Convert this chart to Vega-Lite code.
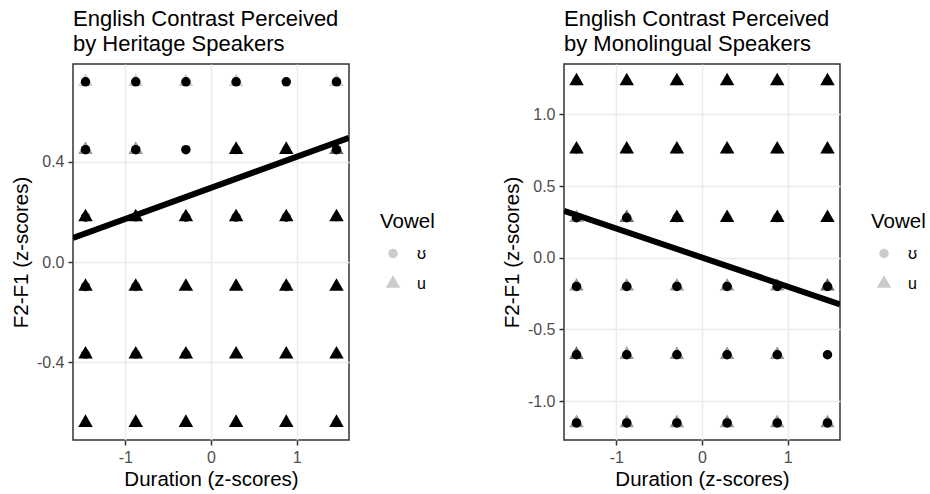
{
  "$schema": "https://vega.github.io/schema/vega-lite/v6.json",
  "padding": {"left": 10, "top": 7, "right": 5, "bottom": 0},
  "spacing": 65,
  "resolve": {"scale": {"shape": "independent", "size": "independent", "opacity": "independent"}, "legend": {"shape": "independent", "size": "independent"}},
  "config": {
    "font": "Liberation Sans",
    "view": {"stroke": "#333333", "strokeWidth": 1.5},
    "axis": {"labelFontSize": 16, "labelColor": "#4d4d4d", "labelFont": "Liberation Sans", "titleFont": "Liberation Sans", "titleFontSize": 20.5, "titleFontWeight": "normal", "titleColor": "black", "tickColor": "#333333", "tickWidth": 1.5, "tickSize": 5, "domain": false, "gridColor": "#ebebeb", "gridWidth": 1.5, "labelPadding": 4, "labelFlush": false},
    "title": {"font": "Liberation Sans", "fontSize": 22, "fontWeight": "normal", "color": "black", "anchor": "start", "frame": "group", "lineHeight": 25, "baseline": "bottom", "offset": 8}
  },
  "datasets": {
    "heritage": [
      {"duration": -1.464, "f2f1": 0.719, "vowel": "ʊ", "n": 8}, {"duration": -1.464, "f2f1": 0.719, "vowel": "u", "n": 1},
      {"duration": -0.878, "f2f1": 0.719, "vowel": "ʊ", "n": 8}, {"duration": -0.878, "f2f1": 0.719, "vowel": "u", "n": 1},
      {"duration": -0.293, "f2f1": 0.719, "vowel": "ʊ", "n": 8}, {"duration": -0.293, "f2f1": 0.719, "vowel": "u", "n": 1},
      {"duration": 0.293, "f2f1": 0.719, "vowel": "ʊ", "n": 8}, {"duration": 0.293, "f2f1": 0.719, "vowel": "u", "n": 1},
      {"duration": 0.878, "f2f1": 0.719, "vowel": "ʊ", "n": 8},
      {"duration": 1.464, "f2f1": 0.719, "vowel": "ʊ", "n": 8}, {"duration": 1.464, "f2f1": 0.719, "vowel": "u", "n": 1},
      {"duration": -1.464, "f2f1": 0.448, "vowel": "ʊ", "n": 8}, {"duration": -1.464, "f2f1": 0.448, "vowel": "u", "n": 2},
      {"duration": -0.878, "f2f1": 0.448, "vowel": "ʊ", "n": 8}, {"duration": -0.878, "f2f1": 0.448, "vowel": "u", "n": 2},
      {"duration": -0.293, "f2f1": 0.448, "vowel": "ʊ", "n": 8},
      {"duration": 0.293, "f2f1": 0.448, "vowel": "u", "n": 8}, {"duration": 0.293, "f2f1": 0.448, "vowel": "ʊ", "n": 2},
      {"duration": 0.878, "f2f1": 0.448, "vowel": "u", "n": 8}, {"duration": 0.878, "f2f1": 0.448, "vowel": "ʊ", "n": 1},
      {"duration": 1.464, "f2f1": 0.448, "vowel": "ʊ", "n": 8}, {"duration": 1.464, "f2f1": 0.448, "vowel": "u", "n": 3},
      {"duration": -1.464, "f2f1": 0.179, "vowel": "u", "n": 8}, {"duration": -1.464, "f2f1": 0.179, "vowel": "ʊ", "n": 4},
      {"duration": -0.878, "f2f1": 0.179, "vowel": "u", "n": 8}, {"duration": -0.878, "f2f1": 0.179, "vowel": "ʊ", "n": 2},
      {"duration": -0.293, "f2f1": 0.179, "vowel": "u", "n": 8}, {"duration": -0.293, "f2f1": 0.179, "vowel": "ʊ", "n": 4},
      {"duration": 0.293, "f2f1": 0.179, "vowel": "u", "n": 8}, {"duration": 0.293, "f2f1": 0.179, "vowel": "ʊ", "n": 4},
      {"duration": 0.878, "f2f1": 0.179, "vowel": "u", "n": 8}, {"duration": 0.878, "f2f1": 0.179, "vowel": "ʊ", "n": 4},
      {"duration": 1.464, "f2f1": 0.179, "vowel": "u", "n": 8}, {"duration": 1.464, "f2f1": 0.179, "vowel": "ʊ", "n": 1},
      {"duration": -1.464, "f2f1": -0.098, "vowel": "u", "n": 8}, {"duration": -1.464, "f2f1": -0.098, "vowel": "ʊ", "n": 4},
      {"duration": -0.878, "f2f1": -0.098, "vowel": "u", "n": 8}, {"duration": -0.878, "f2f1": -0.098, "vowel": "ʊ", "n": 3},
      {"duration": -0.293, "f2f1": -0.098, "vowel": "u", "n": 8},
      {"duration": 0.293, "f2f1": -0.098, "vowel": "u", "n": 8},
      {"duration": 0.878, "f2f1": -0.098, "vowel": "u", "n": 8}, {"duration": 0.878, "f2f1": -0.098, "vowel": "ʊ", "n": 3},
      {"duration": 1.464, "f2f1": -0.098, "vowel": "u", "n": 8},
      {"duration": -1.464, "f2f1": -0.368, "vowel": "u", "n": 8}, {"duration": -1.464, "f2f1": -0.368, "vowel": "ʊ", "n": 3},
      {"duration": -0.878, "f2f1": -0.368, "vowel": "u", "n": 8}, {"duration": -0.878, "f2f1": -0.368, "vowel": "ʊ", "n": 3},
      {"duration": -0.293, "f2f1": -0.368, "vowel": "u", "n": 8}, {"duration": -0.293, "f2f1": -0.368, "vowel": "ʊ", "n": 3},
      {"duration": 0.293, "f2f1": -0.368, "vowel": "u", "n": 8},
      {"duration": 0.878, "f2f1": -0.368, "vowel": "u", "n": 8},
      {"duration": 1.464, "f2f1": -0.368, "vowel": "u", "n": 8}, {"duration": 1.464, "f2f1": -0.368, "vowel": "ʊ", "n": 1},
      {"duration": -1.464, "f2f1": -0.641, "vowel": "u", "n": 8},
      {"duration": -0.878, "f2f1": -0.641, "vowel": "u", "n": 8}, {"duration": -0.878, "f2f1": -0.641, "vowel": "ʊ", "n": 1},
      {"duration": -0.293, "f2f1": -0.641, "vowel": "u", "n": 8},
      {"duration": 0.293, "f2f1": -0.641, "vowel": "u", "n": 8},
      {"duration": 0.878, "f2f1": -0.641, "vowel": "u", "n": 8},
      {"duration": 1.464, "f2f1": -0.641, "vowel": "u", "n": 8}, {"duration": 1.464, "f2f1": -0.641, "vowel": "ʊ", "n": 1}
    ],
    "mono": [
      {"duration": -1.464, "f2f1": 1.233, "vowel": "u", "n": 8}, {"duration": -1.464, "f2f1": 1.233, "vowel": "ʊ", "n": 1},
      {"duration": -0.878, "f2f1": 1.233, "vowel": "u", "n": 8},
      {"duration": -0.293, "f2f1": 1.233, "vowel": "u", "n": 8}, {"duration": -0.293, "f2f1": 1.233, "vowel": "ʊ", "n": 1},
      {"duration": 0.293, "f2f1": 1.233, "vowel": "u", "n": 8},
      {"duration": 0.878, "f2f1": 1.233, "vowel": "u", "n": 8}, {"duration": 0.878, "f2f1": 1.233, "vowel": "ʊ", "n": 1},
      {"duration": 1.464, "f2f1": 1.233, "vowel": "u", "n": 8}, {"duration": 1.464, "f2f1": 1.233, "vowel": "ʊ", "n": 1},
      {"duration": -1.464, "f2f1": 0.756, "vowel": "u", "n": 8}, {"duration": -1.464, "f2f1": 0.756, "vowel": "ʊ", "n": 2},
      {"duration": -0.878, "f2f1": 0.756, "vowel": "u", "n": 8}, {"duration": -0.878, "f2f1": 0.756, "vowel": "ʊ", "n": 1},
      {"duration": -0.293, "f2f1": 0.756, "vowel": "u", "n": 8}, {"duration": -0.293, "f2f1": 0.756, "vowel": "ʊ", "n": 1},
      {"duration": 0.293, "f2f1": 0.756, "vowel": "u", "n": 8}, {"duration": 0.293, "f2f1": 0.756, "vowel": "ʊ", "n": 1},
      {"duration": 0.878, "f2f1": 0.756, "vowel": "u", "n": 8}, {"duration": 0.878, "f2f1": 0.756, "vowel": "ʊ", "n": 1},
      {"duration": 1.464, "f2f1": 0.756, "vowel": "u", "n": 8}, {"duration": 1.464, "f2f1": 0.756, "vowel": "ʊ", "n": 1},
      {"duration": -1.464, "f2f1": 0.279, "vowel": "ʊ", "n": 8}, {"duration": -1.464, "f2f1": 0.279, "vowel": "u", "n": 2},
      {"duration": -0.878, "f2f1": 0.279, "vowel": "ʊ", "n": 8}, {"duration": -0.878, "f2f1": 0.279, "vowel": "u", "n": 3},
      {"duration": -0.293, "f2f1": 0.279, "vowel": "u", "n": 8}, {"duration": -0.293, "f2f1": 0.279, "vowel": "ʊ", "n": 3},
      {"duration": 0.293, "f2f1": 0.279, "vowel": "u", "n": 8}, {"duration": 0.293, "f2f1": 0.279, "vowel": "ʊ", "n": 1},
      {"duration": 0.878, "f2f1": 0.279, "vowel": "u", "n": 8}, {"duration": 0.878, "f2f1": 0.279, "vowel": "ʊ", "n": 3},
      {"duration": 1.464, "f2f1": 0.279, "vowel": "u", "n": 8},
      {"duration": -1.464, "f2f1": -0.2, "vowel": "ʊ", "n": 8}, {"duration": -1.464, "f2f1": -0.2, "vowel": "u", "n": 2},
      {"duration": -0.878, "f2f1": -0.2, "vowel": "ʊ", "n": 8}, {"duration": -0.878, "f2f1": -0.2, "vowel": "u", "n": 2},
      {"duration": -0.293, "f2f1": -0.2, "vowel": "ʊ", "n": 8}, {"duration": -0.293, "f2f1": -0.2, "vowel": "u", "n": 2},
      {"duration": 0.293, "f2f1": -0.2, "vowel": "ʊ", "n": 8}, {"duration": 0.293, "f2f1": -0.2, "vowel": "u", "n": 2},
      {"duration": 0.878, "f2f1": -0.2, "vowel": "ʊ", "n": 8}, {"duration": 0.878, "f2f1": -0.2, "vowel": "u", "n": 2},
      {"duration": 1.464, "f2f1": -0.2, "vowel": "ʊ", "n": 8}, {"duration": 1.464, "f2f1": -0.2, "vowel": "u", "n": 3},
      {"duration": -1.464, "f2f1": -0.677, "vowel": "ʊ", "n": 8}, {"duration": -1.464, "f2f1": -0.677, "vowel": "u", "n": 3},
      {"duration": -0.878, "f2f1": -0.677, "vowel": "ʊ", "n": 8}, {"duration": -0.878, "f2f1": -0.677, "vowel": "u", "n": 2},
      {"duration": -0.293, "f2f1": -0.677, "vowel": "ʊ", "n": 8}, {"duration": -0.293, "f2f1": -0.677, "vowel": "u", "n": 2},
      {"duration": 0.293, "f2f1": -0.677, "vowel": "ʊ", "n": 8}, {"duration": 0.293, "f2f1": -0.677, "vowel": "u", "n": 2},
      {"duration": 0.878, "f2f1": -0.677, "vowel": "ʊ", "n": 8}, {"duration": 0.878, "f2f1": -0.677, "vowel": "u", "n": 2},
      {"duration": 1.464, "f2f1": -0.677, "vowel": "ʊ", "n": 8},
      {"duration": -1.464, "f2f1": -1.153, "vowel": "ʊ", "n": 8}, {"duration": -1.464, "f2f1": -1.153, "vowel": "u", "n": 2},
      {"duration": -0.878, "f2f1": -1.153, "vowel": "ʊ", "n": 8}, {"duration": -0.878, "f2f1": -1.153, "vowel": "u", "n": 2},
      {"duration": -0.293, "f2f1": -1.153, "vowel": "ʊ", "n": 8}, {"duration": -0.293, "f2f1": -1.153, "vowel": "u", "n": 2},
      {"duration": 0.293, "f2f1": -1.153, "vowel": "ʊ", "n": 8}, {"duration": 0.293, "f2f1": -1.153, "vowel": "u", "n": 2},
      {"duration": 0.878, "f2f1": -1.153, "vowel": "ʊ", "n": 8}, {"duration": 0.878, "f2f1": -1.153, "vowel": "u", "n": 2},
      {"duration": 1.464, "f2f1": -1.153, "vowel": "ʊ", "n": 8}, {"duration": 1.464, "f2f1": -1.153, "vowel": "u", "n": 2}
    ],
    "heritageLine": [
      {"duration": -1.61, "f2f1": 0.096},
      {"duration": 1.61, "f2f1": 0.496}
    ],
    "monoLine": [
      {"duration": -1.61, "f2f1": 0.328},
      {"duration": 1.61, "f2f1": -0.325}
    ]
  },
  "hconcat": [
    {
      "width": 276,
      "height": 376,
      "title": {"text": ["English Contrast Perceived", "by Heritage Speakers"]},
      "resolve": {"axis": {"x": "independent", "y": "independent"}},
      "layer": [
        {
          "data": {"name": "heritage"},
          "mark": {"type": "point", "filled": true, "color": "black"},
          "encoding": {
            "x": {"field": "duration", "type": "quantitative", "scale": {"domain": [-1.61, 1.61], "nice": false, "zero": false},
                  "axis": {"orient": "bottom", "title": "Duration (z-scores)", "values": [-1, 0, 1], "format": "d", "labelExpr": "replace(datum.label, '−', '-')", "titlePadding": 4}},
            "y": {"field": "f2f1", "type": "quantitative", "scale": {"domain": [-0.71, 0.79], "nice": false, "zero": false},
                  "axis": {"orient": "left", "title": "F2-F1 (z-scores)", "values": [-0.4, 0, 0.4], "format": ".1f", "labelExpr": "replace(datum.label, '−', '-')", "titlePadding": 5}},
            "shape": {"field": "vowel", "type": "nominal", "scale": {"domain": ["ʊ", "u"], "range": ["circle", "M0,-1.155L1,0.577L-1,0.577Z"]},
                      "legend": {"orient": "none", "legendX": 307, "legendY": 148, "title": "Vowel", "titleFontSize": 20.5, "titleFontWeight": "normal", "titleColor": "black", "titlePadding": 13, "labelFontSize": 16, "labelColor": "black", "symbolOpacity": 0.2, "rowPadding": 10, "labelOffset": 16, "symbolOffset": 5}},
            "size": {"field": "vowel", "type": "nominal", "scale": {"domain": ["ʊ", "u"], "range": [90, 210]},
                     "legend": {"orient": "none", "legendX": 307, "legendY": 148, "title": "Vowel", "titleFontSize": 20.5, "titleFontWeight": "normal", "titleColor": "black", "titlePadding": 13, "labelFontSize": 16, "labelColor": "black", "symbolOpacity": 0.2, "rowPadding": 10, "labelOffset": 16, "symbolOffset": 5}},
            "opacity": {"field": "n", "type": "quantitative", "scale": {"domain": [0, 5], "range": [0, 1], "clamp": true}, "legend": null}
          }
        },
        {
          "data": {"name": "heritageLine"},
          "mark": {"type": "line", "color": "black", "strokeWidth": 6, "clip": true},
          "encoding": {
            "x": {"field": "duration", "type": "quantitative", "scale": {"domain": [-1.61, 1.61], "nice": false, "zero": false},
                  "axis": {"orient": "bottom", "title": null, "values": [-1.5, -0.5, 0.5, 1.5], "labels": false, "ticks": false, "domain": false, "gridWidth": 0.8}},
            "y": {"field": "f2f1", "type": "quantitative", "scale": {"domain": [-0.71, 0.79], "nice": false, "zero": false},
                  "axis": {"orient": "left", "title": null, "values": [-0.6, -0.2, 0.2, 0.6], "labels": false, "ticks": false, "domain": false, "gridWidth": 0.8}}
          }
        }
      ]
    },
    {
      "width": 276,
      "height": 376,
      "title": {"text": ["English Contrast Perceived", "by Monolingual Speakers"]},
      "resolve": {"axis": {"x": "independent", "y": "independent"}},
      "layer": [
        {
          "data": {"name": "mono"},
          "mark": {"type": "point", "filled": true, "color": "black"},
          "encoding": {
            "x": {"field": "duration", "type": "quantitative", "scale": {"domain": [-1.61, 1.61], "nice": false, "zero": false},
                  "axis": {"orient": "bottom", "title": "Duration (z-scores)", "values": [-1, 0, 1], "format": "d", "labelExpr": "replace(datum.label, '−', '-')", "titlePadding": 4}},
            "y": {"field": "f2f1", "type": "quantitative", "scale": {"domain": [-1.272, 1.352], "nice": false, "zero": false},
                  "axis": {"orient": "left", "title": "F2-F1 (z-scores)", "values": [-1, -0.5, 0, 0.5, 1], "format": ".1f", "labelExpr": "replace(datum.label, '−', '-')", "titlePadding": 5}},
            "shape": {"field": "vowel", "type": "nominal", "scale": {"domain": ["ʊ", "u"], "range": ["circle", "M0,-1.155L1,0.577L-1,0.577Z"]},
                      "legend": {"orient": "none", "legendX": 307, "legendY": 148, "title": "Vowel", "titleFontSize": 20.5, "titleFontWeight": "normal", "titleColor": "black", "titlePadding": 13, "labelFontSize": 16, "labelColor": "black", "symbolOpacity": 0.2, "rowPadding": 10, "labelOffset": 16, "symbolOffset": 5}},
            "size": {"field": "vowel", "type": "nominal", "scale": {"domain": ["ʊ", "u"], "range": [90, 210]},
                     "legend": {"orient": "none", "legendX": 307, "legendY": 148, "title": "Vowel", "titleFontSize": 20.5, "titleFontWeight": "normal", "titleColor": "black", "titlePadding": 13, "labelFontSize": 16, "labelColor": "black", "symbolOpacity": 0.2, "rowPadding": 10, "labelOffset": 16, "symbolOffset": 5}},
            "opacity": {"field": "n", "type": "quantitative", "scale": {"domain": [0, 5], "range": [0, 1], "clamp": true}, "legend": null}
          }
        },
        {
          "data": {"name": "monoLine"},
          "mark": {"type": "line", "color": "black", "strokeWidth": 6, "clip": true},
          "encoding": {
            "x": {"field": "duration", "type": "quantitative", "scale": {"domain": [-1.61, 1.61], "nice": false, "zero": false},
                  "axis": {"orient": "bottom", "title": null, "values": [-1.5, -0.5, 0.5, 1.5], "labels": false, "ticks": false, "domain": false, "gridWidth": 0.8}},
            "y": {"field": "f2f1", "type": "quantitative", "scale": {"domain": [-1.272, 1.352], "nice": false, "zero": false},
                  "axis": {"orient": "left", "title": null, "values": [-1.25, -0.75, -0.25, 0.25, 0.75, 1.25], "labels": false, "ticks": false, "domain": false, "gridWidth": 0.8}}
          }
        }
      ]
    }
  ]
}
